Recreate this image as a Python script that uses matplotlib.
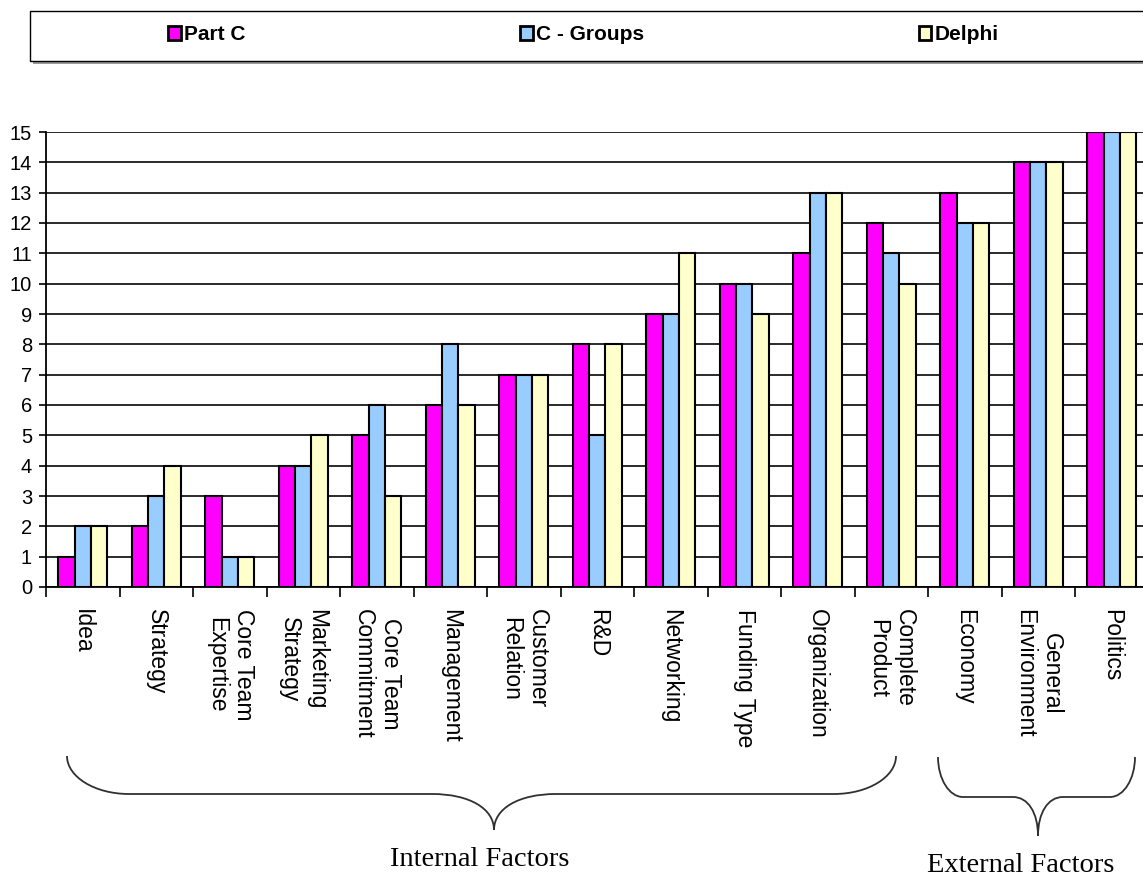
import matplotlib
matplotlib.use("Agg")
import matplotlib.pyplot as plt
import numpy as np
from matplotlib.path import Path
from matplotlib.patches import PathPatch, Rectangle

categories = ["Idea", "Strategy", "Core Team\nExpertise", "Marketing\nStrategy",
              "Core Team\nCommitment", "Management", "Customer\nRelation", "R&D",
              "Networking", "Funding Type", "Organization", "Complete\nProduct",
              "Economy", "General\nEnvironment", "Politics"]
part_c = [1, 2, 3, 4, 5, 6, 7, 8, 9, 10, 11, 12, 13, 14, 15]
c_groups = [2, 3, 1, 4, 6, 8, 7, 5, 9, 10, 13, 11, 12, 14, 15]
delphi = [2, 4, 1, 5, 3, 6, 7, 8, 11, 9, 13, 10, 12, 14, 15]
series_names = ["Part C", "C - Groups", "Delphi"]
colors = ["#FF00FF", "#99CCFF", "#FFFFCC"]

W, H = 1143, 882
fig = plt.figure(figsize=(W / 100, H / 100), dpi=100)


def fx(x):
    return x / W


def fy(y):
    return 1 - y / H


# plot area in pixel terms: y-axis at x=46, baseline at y=587, top at y=132
step = 73.5
ax = fig.add_axes([fx(46), fy(587), (15 * step) / W, (587 - 132) / H])

x = np.arange(len(categories))
bw = 0.222
bars = []
for i, (vals, col) in enumerate(zip([part_c, c_groups, delphi], colors)):
    b = ax.bar(x + (i - 1) * bw, vals, width=bw, color=col, edgecolor="black",
               linewidth=1.5, zorder=3)
    bars.append(b)

ax.set_xlim(-0.5, len(categories) - 0.5)
ax.set_ylim(0, 15)
ax.set_yticks(range(0, 16))
ax.yaxis.grid(True, color="#2a2a2a", linewidth=1.4)
ax.set_axisbelow(True)
for s in ["top", "right"]:
    ax.spines[s].set_visible(False)
for s in ["left", "bottom"]:
    ax.spines[s].set_color("black")
    ax.spines[s].set_linewidth(1.3)

ax.tick_params(axis="y", length=5, width=1.2, pad=5, labelsize=14.5, colors="black")
for lab in ax.get_yticklabels():
    lab.set_family("Liberation Sans")

ax.set_xticks(x)
ax.set_xticks(np.arange(-0.5, len(categories)), minor=True)
ax.tick_params(axis="x", which="major", length=0, pad=16)
ax.tick_params(axis="x", which="minor", length=7, width=1.2)
ax.set_xticklabels(categories, rotation=270, va="top", ha="center",
                   multialignment="center", fontsize=16.5, family="Liberation Sans")

# legend box with drop shadow
fig.patches.append(Rectangle((fx(33), fy(64)), (W - 30) / W, (64 - 12) / H,
                             transform=fig.transFigure, facecolor="#9a9a9a",
                             edgecolor="none", zorder=0))
fig.patches.append(Rectangle((fx(30), fy(61)), (W - 28) / W, (61 - 11) / H,
                             transform=fig.transFigure, facecolor="white",
                             edgecolor="black", linewidth=1.0, zorder=1))
leg = fig.legend([b[0] for b in bars], series_names, loc="center left",
                 bbox_to_anchor=(fx(168), fy(35)), ncol=3, frameon=False,
                 prop={"family": "Liberation Sans", "weight": "bold", "size": 15},
                 handlelength=0.6, handleheight=0.65, handletextpad=0.15,
                 columnspacing=13.2, borderpad=0, borderaxespad=0)
for h in leg.legend_handles:
    h.set_linewidth(2.0)


def brace(xl, xr, xc, ytop, yflat, ytip, r, t):
    k = 0.55
    pts = [(xl, ytop),
           (xl, ytop + k * (yflat - ytop)), (xl + r * (1 - k), yflat), (xl + r, yflat),
           (xc - t, yflat),
           (xc - t * 0.4, yflat), (xc, yflat + 0.4 * (ytip - yflat)), (xc, ytip),
           (xc, yflat + 0.4 * (ytip - yflat)), (xc + t * 0.4, yflat), (xc + t, yflat),
           (xr - r, yflat),
           (xr - r * (1 - k), yflat), (xr, ytop + k * (yflat - ytop)), (xr, ytop)]
    codes = [Path.MOVETO, Path.CURVE4, Path.CURVE4, Path.CURVE4, Path.LINETO,
             Path.CURVE4, Path.CURVE4, Path.CURVE4, Path.CURVE4, Path.CURVE4,
             Path.CURVE4, Path.LINETO, Path.CURVE4, Path.CURVE4, Path.CURVE4]
    verts = [(fx(a), fy(b)) for a, b in pts]
    fig.patches.append(PathPatch(Path(verts, codes), transform=fig.transFigure,
                                 facecolor="none", edgecolor="#303030", linewidth=1.3))


brace(67, 896, 494, 756, 794, 830, 62, 62)
brace(938, 1135, 1038, 757, 797, 836, 25, 25)

fig.text(fx(480), fy(860), "Internal Factors", ha="center", va="center",
         fontsize=20.5, family="Liberation Serif")
fig.text(fx(1021), fy(866), "External Factors", ha="center", va="center",
         fontsize=20.5, family="Liberation Serif")

fig.savefig("out.png", dpi=100)
